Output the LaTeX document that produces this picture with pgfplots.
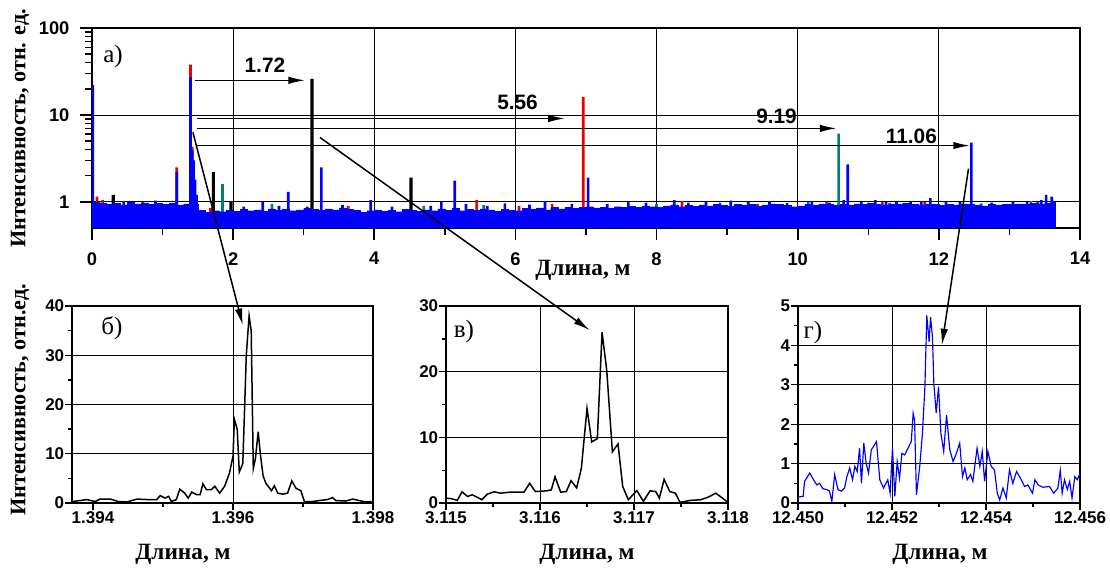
\documentclass[border=0pt]{standalone}
\usepackage{fontspec}
\setmainfont{Liberation Serif}
\setsansfont{Liberation Sans}
\usepackage{pgfplots}
\pgfplotsset{compat=1.18}
\usetikzlibrary{arrows.meta}

\definecolor{tealc}{RGB}{0,128,112}
\definecolor{redc}{RGB}{235,0,0}

\pgfplotsset{
  tl/.style={font=\sffamily\bfseries\fontsize{11}{13}\selectfont},
  panel/.style={
    scale only axis, height=118.2pt,
    tick align=outside, tick pos=left,
    grid=major, major grid style={black, line width=0.5pt},
    axis line style={line width=1.2pt},
    major tick length=4pt, minor tick length=2.5pt,
    every tick/.style={black, line width=0.8pt},
    ticklabel style={font=\sffamily\bfseries\fontsize{10.2}{12}\selectfont, inner sep=0.5pt},
    xticklabel style={yshift=-0.5pt},
    clip=true,
  },
}
\tikzset{arr/.style={line width=0.9pt, -{Latex[length=10pt,width=4.5pt]}}}

\begin{document}
\begin{tikzpicture}
\useasboundingbox (0pt,0pt) rectangle (666pt,-340.2pt);

% ---- top: whole length, log scale
\begin{axis}[
  at={(55.2pt,-136.8pt)}, anchor=south west,
  scale only axis, width=592.8pt, height=120pt,
  ymode=log, xmin=0, xmax=14, ymin=0.5, ymax=100,
  xtick={0,2,4,6,8,10,12,14}, xticklabels={0,2,4,6,8,10,12,14},
  minor x tick num=1,
  ytick={1,10,100}, yticklabels={1,10,100},
  grid=major, major grid style={black, line width=0.5pt},
  axis line style={line width=1.6pt},
  tick align=outside, tick pos=left,
  major tick length=7pt, minor tick length=4pt,
  every tick/.style={black, line width=1.1pt},
  minor tick style={line width=0.9pt},
  ticklabel style={tl},
  xticklabel style={yshift=-4pt},
  yticklabel style={xshift=-3pt},
  log origin y=infty,
]
% red trace
\addplot[ybar, bar shift=0pt, bar width=1.6pt, fill=redc, draw=none] coordinates {
(0.07,1.15)(0.15,1.05)(0.72,1.0)(1.2,2.5)(1.396,38)(1.42,4.3)(1.68,0.85)(3.63,0.9)
(5.45,1.05)(6.05,0.9)(6.52,0.95)(6.96,16)(8.36,1.02)(9.43,0.95)(10.41,1.0)(11.2,1.0)
(11.8,1.0)(13.4,1.0)};
% teal trace
\addplot[ybar, bar shift=0pt, bar width=1.6pt, fill=tealc, draw=none] coordinates {
(1.85,1.6)(2.55,0.95)(4.7,0.9)(5.55,0.92)(8.0,0.95)(8.9,0.98)(10.15,1.0)(10.58,6.1)
(11.0,0.98)(11.3,0.97)(11.5,0.97)(12.6,0.96)(13.3,1.02)};
% black trace
\addplot[ybar, bar shift=0pt, bar width=1.9pt, fill=black, draw=none] coordinates {
(0.3,1.2)(1.72,2.2)(1.97,1.0)(3.117,26)(4.52,1.9)(13.38,0.95)};
% blue trace: noise floor
\addplot[blue, fill=blue, const plot, line width=0.2pt] coordinates {
(0,0.5)(0,1.00)(0.1,0.97)(0.2,0.93)(0.3,0.96)(0.4,0.92)(0.5,0.98)(0.6,0.95)(0.7,0.97)
(0.8,0.93)(0.9,0.96)(1.0,0.94)(1.1,0.97)(1.2,0.92)(1.3,0.95)(1.4,0.93)(1.5,0.80)
(1.6,0.76)(1.7,0.79)(1.8,0.77)(1.9,0.80)(2.0,0.78)(2.1,0.82)(2.2,0.79)(2.3,0.81)
(2.4,0.78)(2.5,0.83)(2.6,0.80)(2.7,0.82)(2.8,0.79)(2.9,0.81)(3.0,0.84)(3.1,0.82)
(3.2,0.80)(3.3,0.83)(3.4,0.81)(3.5,0.85)(3.6,0.82)(3.7,0.80)(3.8,0.76)(3.9,0.79)
(4.0,0.81)(4.1,0.78)(4.2,0.80)(4.3,0.77)(4.4,0.82)(4.5,0.80)(4.6,0.78)(4.7,0.81)
(4.8,0.79)(4.9,0.83)(5.0,0.80)(5.1,0.84)(5.2,0.79)(5.3,0.82)(5.4,0.80)(5.5,0.83)
(5.6,0.81)(5.7,0.78)(5.8,0.82)(5.9,0.80)(6.0,0.79)(6.1,0.84)(6.2,0.82)(6.3,0.85)
(6.4,0.81)(6.5,0.86)(6.6,0.83)(6.7,0.87)(6.8,0.84)(6.9,0.86)(7.0,0.88)(7.1,0.85)
(7.2,0.87)(7.3,0.84)(7.4,0.88)(7.5,0.86)(7.6,0.89)(7.7,0.87)(7.8,0.90)(7.9,0.88)
(8.0,0.86)(8.1,0.90)(8.2,0.92)(8.3,0.88)(8.4,0.91)(8.5,0.89)(8.6,0.92)(8.7,0.90)
(8.8,0.93)(8.9,0.91)(9.0,0.89)(9.1,0.93)(9.2,0.91)(9.3,0.94)(9.4,0.90)(9.5,0.92)
(9.6,0.95)(9.7,0.93)(9.8,0.91)(9.9,0.88)(10.0,0.90)(10.1,0.94)(10.2,0.92)(10.3,0.95)
(10.4,0.93)(10.5,0.91)(10.6,0.94)(10.7,0.92)(10.8,0.95)(10.9,0.93)(11.0,0.96)(11.1,0.94)
(11.2,0.92)(11.3,0.95)(11.4,0.93)(11.5,0.96)(11.6,0.94)(11.7,0.92)(11.8,0.95)(11.9,0.93)
(12.0,0.91)(12.1,0.94)(12.2,0.92)(12.3,0.95)(12.4,0.93)(12.5,0.92)(12.6,0.90)(12.7,0.93)
(12.8,0.92)(12.9,0.94)(13.0,0.93)(13.1,0.95)(13.2,0.94)(13.3,0.96)(13.4,0.95)(13.5,0.97)
(13.6,0.98)(13.65,0.98)(13.65,0.5)};
% blue trace: peaks
\addplot[ybar, bar shift=0pt, bar width=1.6pt, fill=blue, draw=none] coordinates {
(0.01,22)(0.45,1.02)(0.9,1.03)(1.2,2.2)(1.396,27)(1.42,3.9)(1.44,3.0)(1.46,1.8)(1.48,1.2)
(2.15,0.88)(2.42,1.0)(2.65,0.9)(2.78,1.3)(3.05,0.88)(3.25,2.5)(3.55,0.92)(3.95,1.05)
(4.25,0.88)(4.8,0.9)(4.95,1.0)(5.14,1.75)(5.3,0.95)(5.6,0.9)(5.85,0.96)(6.2,0.93)
(6.42,1.02)(6.8,0.95)(7.03,1.9)(7.3,0.95)(7.6,1.0)(7.85,0.98)(8.25,1.05)(8.45,0.98)
(8.7,1.02)(9.05,1.03)(9.3,0.99)(9.6,1.02)(9.85,0.97)(10.2,1.02)(10.45,0.98)(10.65,1.05)
(10.71,2.7)(10.9,1.0)(11.1,1.05)(11.25,1.0)(11.4,1.0)(11.6,0.99)(11.75,1.02)(11.88,1.1)
(12.1,0.99)(12.3,1.0)(12.46,4.8)(12.75,0.98)(13.05,1.0)(13.25,1.0)(13.45,1.05)(13.52,1.2)
(13.6,1.15)};
\draw[arr] (axis cs:1.46,25) -- (axis cs:3.02,25);
\draw[arr] (axis cs:1.49,9.1) -- (axis cs:6.70,9.1);
\draw[arr] (axis cs:1.49,7.0) -- (axis cs:10.55,7.0);
\draw[arr] (axis cs:1.49,4.44) -- (axis cs:12.44,4.44);
\begin{scope}[every node/.style={font=\sffamily\bfseries\fontsize{12.5}{14}\selectfont}]
\node at (axis cs:2.45,37) {1.72};
\node at (axis cs:6.03,14) {5.56};
\node at (axis cs:9.70,9.6) {9.19};
\node at (axis cs:11.61,5.64) {11.06};
\end{scope}
\coordinate (s1) at (axis cs:1.43,6.3);
\coordinate (s2) at (axis cs:3.23,5.5);
\coordinate (s3) at (axis cs:12.42,2.41);
\end{axis}

% ---- б) around 1.396 m (x in mm from 1.394 m)
\begin{axis}[panel,
  at={(43.2pt,-301.8pt)}, anchor=south west, width=180.6pt,
  xmin=-0.3, xmax=4, ymin=0, ymax=40,
  xtick={0,2,4}, xticklabels={1.394,1.396,1.398}, xmajorgrids=false,
  extra x ticks={2}, extra x tick labels={}, extra x tick style={grid=major},
  minor xtick={1,3},
  ytick={0,10,20,30,40}, yticklabels={0,10,20,30,40}, minor y tick num=1,
]
\addplot[black, line width=0.9pt] coordinates {
(-0.30,0.3)(-0.18,0.5)(-0.09,0.7)(0.03,0.3)(0.10,0.8)(0.25,0.8)(0.36,0.3)(0.48,0.2)
(0.63,0.8)(0.77,0.7)(0.91,0.7)(0.96,1.5)(1.03,1.0)(1.08,1.35)(1.12,0.3)(1.19,0.7)
(1.24,2.8)(1.31,2.0)(1.36,1.0)(1.41,2.2)(1.48,1.7)(1.53,1.7)(1.57,3.9)(1.62,2.7)
(1.69,2.7)(1.74,3.4)(1.81,2.0)(1.88,3.4)(1.95,6.1)(2.00,9.5)(2.02,17)(2.06,15)
(2.09,6.3)(2.14,8)(2.19,30)(2.23,38)(2.26,35)(2.29,7)(2.32,9)(2.36,14.5)(2.39,10)
(2.43,5.5)(2.47,4.0)(2.55,2.5)(2.59,3.5)(2.64,2.0)(2.71,1.8)(2.78,2.0)(2.84,4.5)
(2.90,3.0)(2.97,2.5)(3.02,0.3)(3.14,0.3)(3.23,0.5)(3.35,0.7)(3.42,1.1)(3.47,0.5)
(3.61,0.4)(3.71,0.8)(3.80,0.5)(3.90,0.2)(3.98,0.3)};
\coordinate (e1) at (axis cs:2.14,36.1);
\end{axis}

% ---- в) around 3.117 m (x in mm from 3.115 m)
\begin{axis}[panel,
  at={(267.6pt,-301.8pt)}, anchor=south west, width=169.2pt,
  xmin=0, xmax=3, ymin=0, ymax=30,
  xtick={0,1,2,3}, xticklabels={3.115,3.116,3.117,3.118}, minor x tick num=1,
  ytick={0,10,20,30}, yticklabels={0,10,20,30}, minor y tick num=1,
]
\addplot[black, line width=0.9pt] coordinates {
(0.00,0.75)(0.06,0.65)(0.12,0.4)(0.17,1.7)(0.23,1.0)(0.28,1.25)(0.33,0.9)(0.38,0.5)
(0.44,1.35)(0.51,1.7)(0.58,1.5)(0.68,1.65)(0.83,1.65)(0.89,3.0)(0.95,1.75)(1.07,1.85)
(1.12,2.0)(1.16,4.0)(1.22,1.65)(1.28,1.75)(1.33,3.4)(1.39,2.3)(1.44,5.3)(1.50,14.4)
(1.55,9.3)(1.61,9.8)(1.66,26)(1.71,20.2)(1.77,7.8)(1.83,9.0)(1.88,2.5)(1.94,0.5)
(2.03,1.9)(2.10,0.25)(2.17,1.85)(2.23,1.75)(2.27,0.75)(2.32,3.6)(2.38,1.75)(2.44,1.5)
(2.49,0.1)(2.60,0.4)(2.71,0.5)(2.79,0.9)(2.87,1.5)(2.94,0.75)(3.00,0.1)};
\coordinate (e2) at (axis cs:1.53,26.3);
\end{axis}

% ---- г) around 12.453 m (x in mm from 12.450 m)
\begin{axis}[panel,
  at={(478.8pt,-301.8pt)}, anchor=south west, width=169.2pt,
  xmin=0, xmax=6, ymin=0, ymax=5,
  xtick={0,2,4,6}, xticklabels={12.450,12.452,12.454,12.456}, minor x tick num=1,
  ytick={0,1,2,3,4,5}, yticklabels={0,1,2,3,4,5}, minor y tick num=1,
]
\addplot[blue, line width=0.7pt] coordinates {
(0.00,0.15)(0.11,0.17)(0.14,0.55)(0.25,0.76)(0.35,0.55)(0.40,0.46)(0.46,0.5)(0.53,0.36)
(0.62,0.34)(0.67,0.3)(0.72,0.04)(0.78,0.72)(0.85,0.34)(0.92,0.3)(0.99,0.38)(1.04,0.67)
(1.10,0.89)(1.16,0.59)(1.21,0.93)(1.26,0.8)(1.31,1.39)(1.35,0.5)(1.40,1.52)(1.45,1.01)
(1.50,0.76)(1.56,1.35)(1.67,1.56)(1.74,0.59)(1.82,0.38)(1.91,0.59)(1.96,0.25)(2.01,1.39)
(2.06,0.17)(2.11,1.05)(2.16,0.63)(2.21,1.26)(2.27,1.22)(2.34,1.39)(2.41,1.56)(2.45,2.28)
(2.48,2.1)(2.52,0.21)(2.59,0.93)(2.65,1.81)(2.70,2.95)(2.74,4.76)(2.79,4.09)(2.82,4.72)
(2.86,4.22)(2.89,3.04)(2.94,2.28)(2.99,2.95)(3.04,1.77)(3.10,1.31)(3.16,2.23)(3.23,1.35)
(3.30,1.05)(3.37,1.26)(3.44,1.52)(3.50,0.67)(3.55,0.89)(3.60,0.59)(3.67,0.72)(3.72,0.55)
(3.81,1.39)(3.87,0.93)(3.92,1.31)(3.97,0.55)(4.04,1.31)(4.11,0.93)(4.18,0.84)(4.24,0.25)
(4.29,0.08)(4.36,0.38)(4.43,0.13)(4.50,0.84)(4.57,0.5)(4.65,0.8)(4.75,0.59)(4.82,0.42)
(4.89,0.46)(4.99,0.25)(5.04,0.59)(5.11,0.46)(5.21,0.4)(5.35,0.42)(5.44,0.25)(5.53,0.38)
(5.58,0.83)(5.62,0.25)(5.67,0.59)(5.73,0.34)(5.78,0.55)(5.83,0.13)(5.89,0.67)(5.94,0.59)
(5.99,0.72)};
\coordinate (e3) at (axis cs:3.06,4.0);
\end{axis}

\draw[arr] (s1) -- (e1);
\draw[arr] (s2) -- (e2);
\draw[arr] (s3) -- (e3);

% labels
\begin{scope}[font=\bfseries\fontsize{13.3}{15}\selectfont]
\node[rotate=90] at (12pt,-77pt) {Интенсивность, отн. ед.};
\node[rotate=90] at (12pt,-240pt) {Интенсивность, отн.ед.};
\end{scope}
\begin{scope}[font=\bfseries\fontsize{14}{16}\selectfont]
\node at (349.8pt,-162pt) {Длина, м};
\node at (109.8pt,-332.4pt) {Длина, м};
\node at (352.2pt,-332.4pt) {Длина, м};
\node at (564pt,-332.4pt) {Длина, м};
\end{scope}
\begin{scope}[font=\fontsize{15}{17}\selectfont]
\node at (67.8pt,-33.6pt) {а)};
\node at (67.2pt,-196.8pt) {б)};
\node at (278.4pt,-198.6pt) {в)};
\node at (487.8pt,-199.2pt) {г)};
\end{scope}
\end{tikzpicture}
\end{document}
